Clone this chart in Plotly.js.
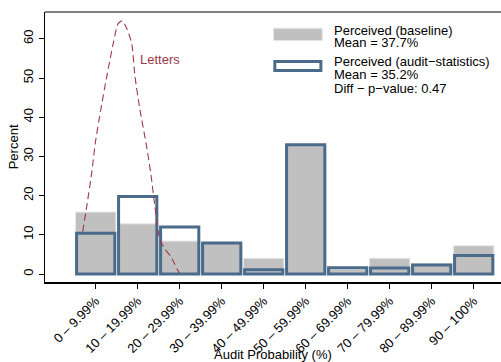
<!DOCTYPE html>
<html>
<head>
<meta charset="utf-8">
<script src="https://cdn.plot.ly/plotly-3.0.1.min.js"></script>
<style>html,body{margin:0;padding:0;background:#fff;}#chart{width:501px;height:362px;}</style>
</head>
<body>
<div id="chart"></div>
<script>
// Categories (audit probability bins)
const categories = ["0 – 9.99%", "10 – 19.99%", "20 – 29.99%", "30 – 39.99%", "40 – 49.99%",
                    "50 – 59.99%", "60 – 69.99%", "70 – 79.99%", "80 – 89.99%", "90 – 100%"];
// Percent per bin
const baseline = [15.8, 12.8, 8.4, 7.9, 4.0, 33.0, 1.2, 4.0, 2.7, 7.2];
const auditStats = [10.4, 19.8, 12.0, 7.9, 1.1, 33.0, 1.6, 1.5, 2.3, 4.7];
// "Letters" density curve (x in bin units)
const lettersX = [-0.31, -0.214, -0.095, -0.01, 0.119, 0.262, 0.419, 0.53, 0.633, 0.745, 0.857, 0.936, 1.055, 1.198, 1.31, 1.41, 1.53, 1.66, 1.79, 1.99];
const lettersY = [10.8, 17.2, 25.8, 33.4, 41.8, 50.3, 58.9, 63.8, 64.6, 62.5, 58.9, 50.3, 41.8, 33.4, 25.8, 17.2, 8.7, 6.2, 4.4, 0.2];

const xpos = categories.map((c, i) => i);

const traces = [
  {
    type: "bar", x: xpos, y: baseline, width: 0.96,
    marker: {color: "#c0c0c0", line: {color: "#e6e6e6", width: 1}},
    hoverinfo: "skip", showlegend: false
  },
  {
    type: "bar", x: xpos, y: auditStats, width: 0.91,
    marker: {color: "rgba(0,0,0,0)", line: {color: "#4a6b8a", width: 3}},
    hoverinfo: "skip", showlegend: false
  },
  {
    type: "scatter", mode: "lines", x: lettersX, y: lettersY,
    line: {color: "#9b3a4a", width: 1.1, dash: "7px,4px", shape: "spline", smoothing: 0.6},
    hoverinfo: "skip", showlegend: false
  }
];

const F = "Liberation Sans, Arial, Helvetica, sans-serif";
const FS = 13;

const layout = {
  width: 501, height: 362,
  margin: {l: 45, r: 0, t: 12, b: 80},
  paper_bgcolor: "#fff", plot_bgcolor: "#fff",
  barmode: "overlay",
  font: {family: F, size: FS, color: "#000"},
  xaxis: {
    range: [-1.207, 9.65],
    tickmode: "array", tickvals: xpos, ticktext: categories,
    tickangle: -45, ticks: "outside", ticklen: 5, tickcolor: "#000",
    showline: true, linecolor: "#000", linewidth: 1.5,
    showgrid: false, zeroline: false,
    tickfont: {family: F, size: FS, color: "#000"},
    title: {text: ""}
  },
  yaxis: {
    range: [-2.04, 66.84],
    tickmode: "array", tickvals: [0, 10, 20, 30, 40, 50, 60],
    tickangle: -90, ticks: "outside", ticklen: 5, tickcolor: "#000",
    showline: true, linecolor: "#000", linewidth: 1.5,
    showgrid: false, zeroline: false,
    tickfont: {family: F, size: FS, color: "#000"},
    title: {text: ""}
  },
  shapes: [
    {type: "line", xref: "paper", yref: "paper", x0: 0, x1: 1, y0: 1, y1: 1, line: {color: "#555", width: 1.5}},
    {type: "rect", xref: "paper", yref: "paper", x0: 0.501, x1: 0.608, y0: 0.894, y1: 0.94,
     fillcolor: "#c0c0c0", line: {color: "#e6e6e6", width: 1}},
    {type: "rect", xref: "paper", yref: "paper", x0: 0.504, x1: 0.605, y0: 0.783, y1: 0.817,
     fillcolor: "#fff", line: {color: "#4a6b8a", width: 3}}
  ],
  annotations: [
    {xref: "paper", yref: "paper", x: 0.5, y: -0.2667, text: "Audit Probability (%)", showarrow: false,
     xanchor: "center", yanchor: "middle"},
    {xref: "paper", yref: "paper", x: -0.0695, y: 0.5, text: "Percent", showarrow: false, textangle: -90,
     xanchor: "center", yanchor: "middle"},
    {xref: "x", yref: "y", x: 1.01, y: 54.8, text: "Letters", showarrow: false, xanchor: "left", yanchor: "middle",
     font: {family: F, size: FS, color: "#9b3a4a"}},
    {xref: "paper", yref: "paper", x: 0.629, y: 0.9315, text: "Perceived (baseline)", showarrow: false, xanchor: "left", yanchor: "middle"},
    {xref: "paper", yref: "paper", x: 0.629, y: 0.888, text: "Mean = 37.7%", showarrow: false, xanchor: "left", yanchor: "middle"},
    {xref: "paper", yref: "paper", x: 0.629, y: 0.8185, text: "Perceived (audit−statistics)", showarrow: false, xanchor: "left", yanchor: "middle"},
    {xref: "paper", yref: "paper", x: 0.629, y: 0.7685, text: "Mean = 35.2%", showarrow: false, xanchor: "left", yanchor: "middle"},
    {xref: "paper", yref: "paper", x: 0.629, y: 0.715, text: "Diff − p−value: 0.47", showarrow: false, xanchor: "left", yanchor: "middle"}
  ]
};

Plotly.newPlot("chart", traces, layout, {staticPlot: true, displayModeBar: false});
</script>
</body>
</html>
